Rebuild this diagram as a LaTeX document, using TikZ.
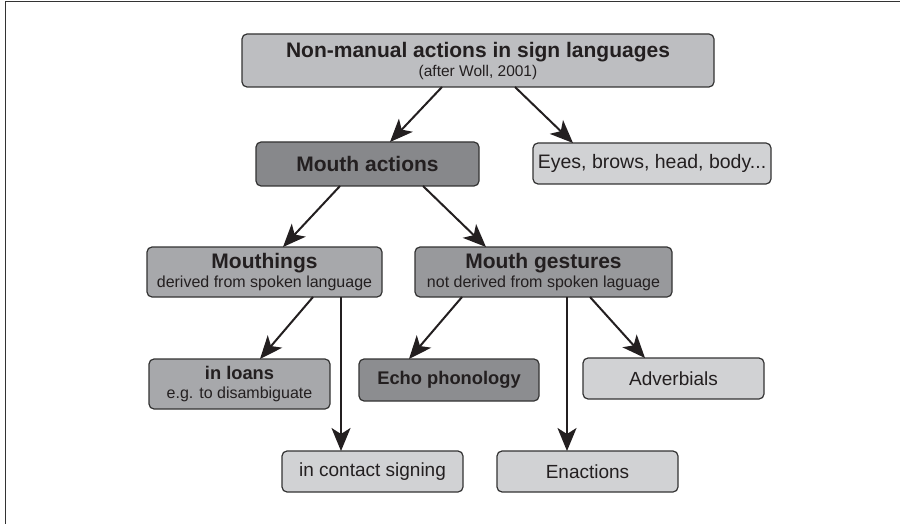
\documentclass[tikz,border=0pt]{standalone}
\usepackage{fontspec}
\setmainfont{Liberation Sans}
\usetikzlibrary{arrows.meta}
\definecolor{boxline}{HTML}{333333}
\definecolor{inktext}{HTML}{231F20}
\definecolor{greyA}{HTML}{BDBEC1}
\definecolor{greyB}{HTML}{87888B}
\definecolor{greyC}{HTML}{D1D2D4}
\definecolor{greyD}{HTML}{A7A8AB}
\definecolor{greyE}{HTML}{98999C}
\definecolor{greyF}{HTML}{8C8D90}

\begin{document}
\begin{tikzpicture}[x=1pt,y=-1pt,line width=1pt,
  box/.style={draw=boxline,line width=1.2pt,rounded corners=5pt,inner sep=0pt,outer sep=0pt,
    align=center,text=inktext,font=\fontsize{16}{19}\selectfont},
  plain/.style={box,fill=greyC,font=\fontsize{19}{22}\selectfont},
  arr/.style={draw=inktext,line width=2pt,-{Stealth[length=23pt,width=19pt,inset=6pt]}}]
\path[use as bounding box] (0,0) rectangle (900,524);
\draw[line width=1.5pt,boxline] (5.5,524) -- (5.5,1.5) -- (900,1.5);
\node[box,fill=greyA,minimum width=472,minimum height=53] (nma) at (478,60.5)
  {{\bfseries\fontsize{21}{21}\selectfont Non-manual actions in sign languages}\\{\fontsize{15.5}{19}\selectfont (after Woll, 2001)}};
\node[box,fill=greyB,minimum width=223,minimum height=44,font=\bfseries\fontsize{21}{24}\selectfont] (mouth) at (367.5,164) {Mouth actions};
\node[plain,minimum width=238,minimum height=41,font=\fontsize{19.5}{22}\selectfont] (eyes) at (652,163.5) {Eyes, brows, head, body...};
\node[box,fill=greyD,minimum width=235,minimum height=50] (mouthings) at (264.5,272)
  {{\bfseries\fontsize{21}{21}\selectfont Mouthings}\\derived from spoken language};
\node[box,fill=greyE,minimum width=257,minimum height=50] (gestures) at (543.5,272)
  {{\bfseries\fontsize{21}{21}\selectfont Mouth gestures}\\not derived from spoken laguage};
\node[box,fill=greyD,minimum width=181,minimum height=50] (loans) at (239.5,384)
  {{\bfseries\fontsize{18.3}{18}\selectfont in loans}\\e.g. to disambiguate};
\node[box,fill=greyF,minimum width=180,minimum height=42,font=\bfseries\fontsize{18.3}{22}\selectfont] (echo) at (449,380) {Echo phonology};
\node[plain,minimum width=181,minimum height=41] (adverb) at (673.5,378.5) {Adverbials};
\node[plain,minimum width=181,minimum height=41] (contact) at (372.5,471.5) {in contact signing};
\node[plain,minimum width=181,minimum height=41] (enact) at (587.5,471.5) {Enactions};
% connectors
\draw[arr] ([xshift=-36]nma.south) -- ([xshift=22.5]mouth.north);
\draw[arr] ([xshift=37]nma.south) -- ([xshift=-79]eyes.north);
\draw[arr] ([xshift=-27.5]mouth.south) -- ([xshift=18.5]mouthings.north);
\draw[arr] ([xshift=55.5]mouth.south) -- ([xshift=-57.5]gestures.north);
\draw[arr] ([xshift=48.5]mouthings.south) -- ([xshift=20.5]loans.north);
\draw[arr] ([xshift=76.5]mouthings.south) -- ([xshift=-31.5]contact.north);
\draw[arr] ([xshift=-81.5]gestures.south) -- ([xshift=-40]echo.north);
\draw[arr] ([xshift=23.5]gestures.south) -- ([xshift=-20.5]enact.north);
\draw[arr] ([xshift=46.5]gestures.south) -- ([xshift=-28.5]adverb.north);
\end{tikzpicture}
\end{document}
